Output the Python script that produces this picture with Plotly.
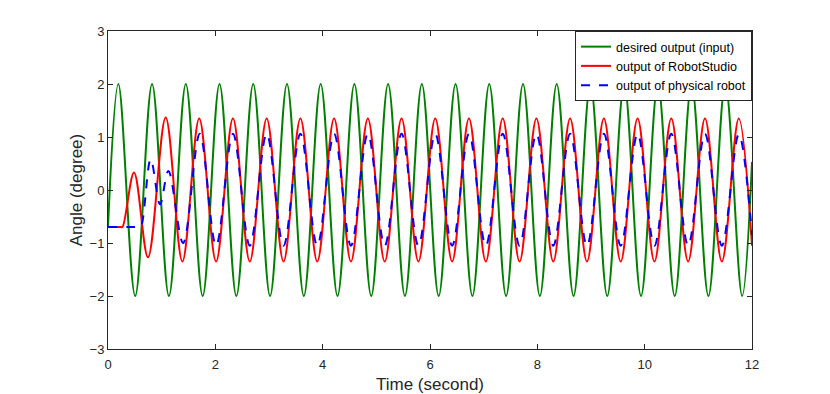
import plotly.graph_objects as go

# desired output (input): start, then alternating peaks / troughs, end
green_t = [0.0, 0.193, 0.507, 0.821, 1.135, 1.450, 1.764, 2.078, 2.392, 2.706, 3.020,
           3.335, 3.649, 3.963, 4.277, 4.591, 4.905, 5.219, 5.533, 5.848, 6.162,
           6.476, 6.790, 7.104, 7.418, 7.733, 8.047, 8.361, 8.675, 8.989, 9.303,
           9.618, 9.932, 10.246, 10.560, 10.874, 11.188, 11.502, 11.816, 12.0]
green_y = [-0.7] + [2, -2] * 19 + [0.53]

# output of RobotStudio: flat start, transient, then steady oscillation
red_t = [0.0, 0.24, 0.27, 0.485, 0.745, 1.075, 1.386, 1.700, 2.014, 2.328, 2.642, 2.957,
         3.271, 3.585, 3.899, 4.213, 4.527, 4.842, 5.156, 5.470, 5.784, 6.098,
         6.412, 6.726, 7.040, 7.355, 7.669, 7.983, 8.297, 8.611, 8.925, 9.240,
         9.554, 9.868, 10.182, 10.496, 10.810, 11.124, 11.438, 11.753, 12.0]
red_y = [-0.7, -0.7, -0.7, 0.33, -1.27, 1.37, -1.35] + [1.35, -1.35] * 16 + [1.35, -1.05]

# output of physical robot
blue_t = [0.0, 0.57, 0.61, 0.795, 0.97, 1.125, 1.40, 1.710, 2.014, 2.328, 2.642, 2.957,
          3.271, 3.585, 3.899, 4.213, 4.527, 4.842, 5.156, 5.470, 5.784, 6.098,
          6.412, 6.726, 7.040, 7.355, 7.669, 7.983, 8.297, 8.611, 8.925, 9.240,
          9.554, 9.868, 10.182, 10.496, 10.810, 11.124, 11.438, 11.753, 12.0]
blue_y = [-0.7, -0.7, -0.7, 0.58, -0.27, 0.36, -1.0] + [1.06, -1.05] * 16 + [1.05, -0.85]

x_ticks = [0, 2, 4, 6, 8, 10, 12]
y_ticks = [-3, -2, -1, 0, 1, 2, 3]

fig = go.Figure()
fig.add_trace(go.Scatter(x=green_t, y=green_y, mode="lines",
                         name="desired output (input)",
                         line=dict(color="#008000", width=2, shape="spline", smoothing=1)))
fig.add_trace(go.Scatter(x=red_t, y=red_y, mode="lines",
                         name="output of RobotStudio",
                         line=dict(color="#ff0000", width=2, shape="spline", smoothing=1)))
fig.add_trace(go.Scatter(x=blue_t, y=blue_y, mode="lines",
                         name="output of physical robot",
                         line=dict(color="#0000ff", width=2, dash="dash",
                                   shape="spline", smoothing=1)))

axis_style = dict(showgrid=False, zeroline=False, showline=True, linecolor="#262626",
                  linewidth=1, mirror="ticks", ticks="inside", ticklen=5,
                  tickcolor="#262626", tickfont=dict(size=13, color="#262626"),
                  automargin=False)

fig.update_xaxes(range=[0, 12], tickvals=x_ticks, ticklabelstandoff=3,
                 title=dict(text="Time (second)", font=dict(size=17, color="#262626"),
                            standoff=8),
                 **axis_style)
fig.update_yaxes(range=[-3, 3], tickvals=y_ticks,
                 title=dict(text="Angle (degree)", font=dict(size=17, color="#262626"),
                            standoff=2),
                 **axis_style)

# page body has an 8px margin, so the figure is a little smaller than the window
fig.update_layout(
    width=822, height=386,
    margin=dict(l=100, r=78, t=23, b=45),
    paper_bgcolor="white", plot_bgcolor="white",
    font=dict(family="Liberation Sans, Arial, sans-serif", color="#262626"),
    legend=dict(x=1, y=1, xanchor="right", yanchor="top",
                bgcolor="white", bordercolor="#262626", borderwidth=1,
                font=dict(size=12.5, color="black"), itemwidth=30,
                tracegroupgap=0),
    showlegend=True,
)

fig.write_html("out.html")
